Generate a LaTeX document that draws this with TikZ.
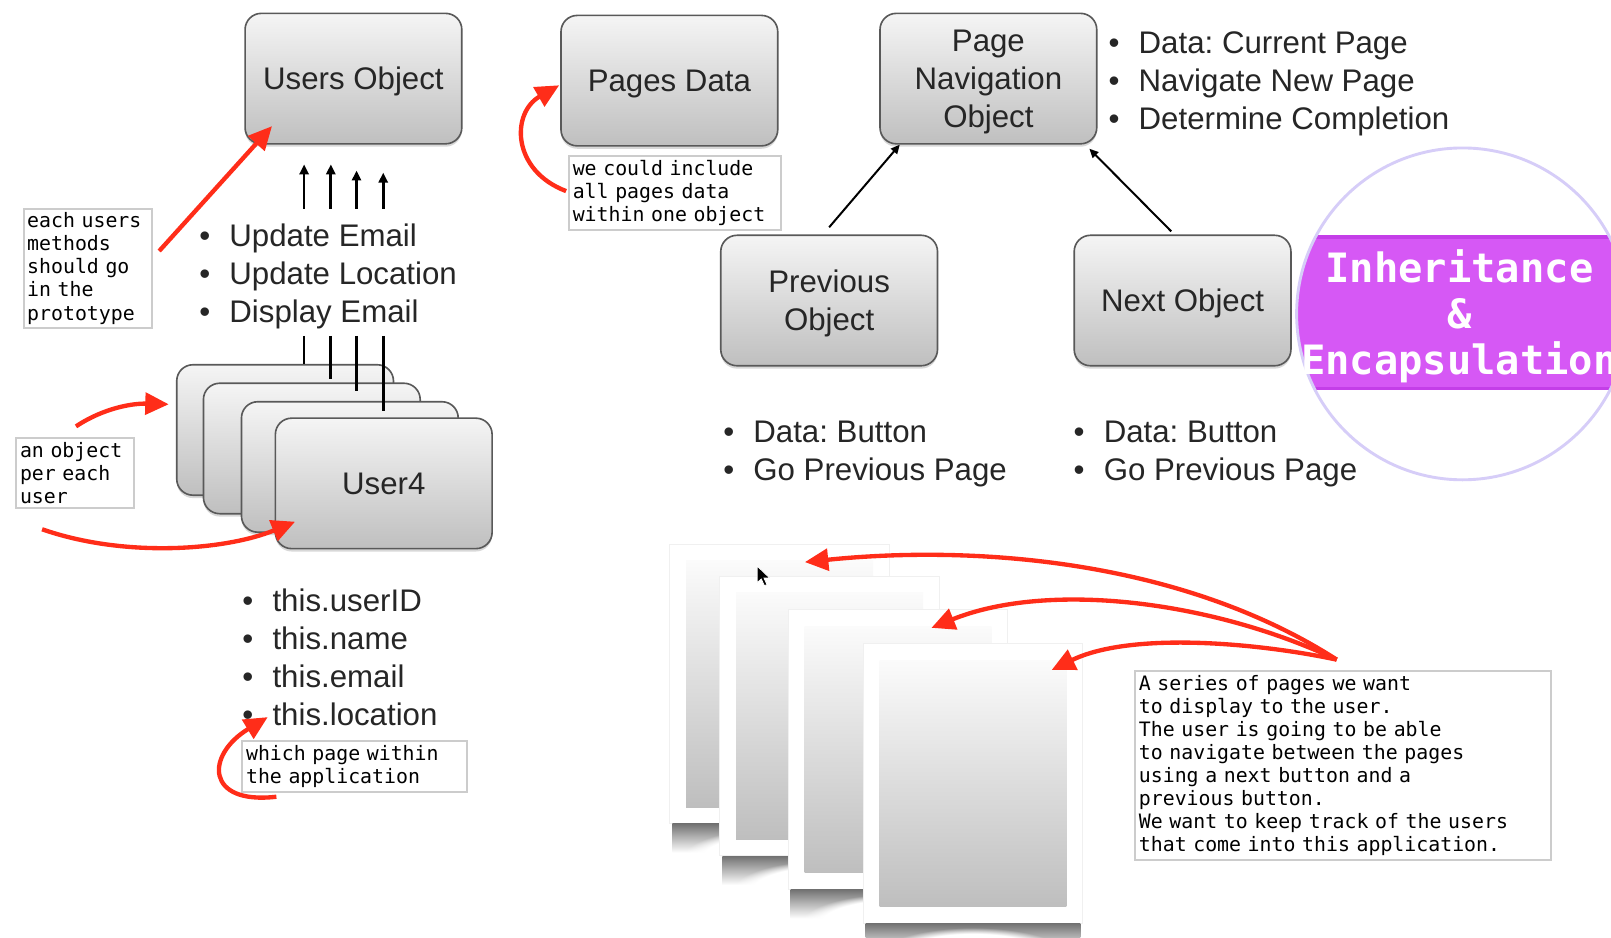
\documentclass[tikz,border=0pt]{standalone}
\usepackage{fontspec}
\setmainfont{Liberation Sans}
\newfontfamily\codefont{DejaVu Sans Mono}
\frenchspacing
\usepackage{tikz}
\usetikzlibrary{arrows.meta,positioning,calc,shadows,fadings}
\definecolor{annored}{RGB}{255,45,25}
\definecolor{bandpurple}{RGB}{214,88,245}
\definecolor{bandedge}{RGB}{196,62,232}
\definecolor{ringlav}{RGB}{214,205,248}
\newcommand{\bitem}[1]{\makebox[16.7pt][l]{\textbullet}#1}
\tikzset{
  objbox/.style={draw=black!65, line width=0.9pt, rounded corners=9pt, top color=black!4, bottom color=black!25,
    minimum width=4.22cm, minimum height=2.54cm, align=center, text depth=0pt, font=\fontsize{17.3}{21}\selectfont, text=black!85,
    drop shadow={shadow xshift=0pt, shadow yshift=-1.6pt, opacity=0.3}},
  listline/.style={anchor=west, inner sep=0pt, text height=12.5pt, text depth=0pt, font=\fontsize{17.3}{21}\selectfont, text=black!85},
  note/.style={draw=black!20, line width=1.1pt, fill=white, anchor=north west, inner xsep=2pt, inner ysep=2.4pt, align=left,
    font=\codefont\fontsize{11}{12.75}\selectfont},
  redarr/.style={-{Triangle[length=13pt, width=12pt]}, line width=2.4pt, draw=annored},
  blkarr/.style={-{Triangle[length=5.5pt, width=5pt]}, line width=1.5pt},
  thinarr/.style={-{Triangle[length=5pt, width=4.5pt]}, line width=1.1pt},
  pagesheet/.style={draw=black!6, line width=0.5pt, fill=white, minimum width=4.28cm, minimum height=5.44cm, inner sep=0pt,
    path picture={\shade[top color=white, bottom color=black!27]
      ($(path picture bounding box.north west)+(16,16)$) rectangle ($(path picture bounding box.south east)+(-16,-16)$);}}}

\begin{document}
\begin{tikzpicture}[x=0.02cm, y=-0.02cm]
  \useasboundingbox (0,0) rectangle (1568,912);
  \clip (0,0) rectangle (1568,912);
  \fill[white] (0,0) rectangle (1568,912);
  % users object and the user objects
  \node[objbox] (uo) at (344,76.5) {Users Object};
  \foreach \x/\y [count=\i] in {277.5/418.5, 303.5/436.5, 340.5/454.5}
    \node[objbox] (u\i) at (\x,\y) {};
  \node[objbox] (u4) at (373.5,470.5) {User4};
  \foreach \lbl [count=\i] in {Update Email, Update Location, Display Email}
    \node[listline] (m\i) at (193.6,{229+37*(\i-1)}) {\bitem{\lbl}};
  \foreach \x/\t in {296/160, 322/160, 347/166, 373/168}
    \draw[blkarr] (\x,203) -- (\x,\t);
  \foreach \x/\d [count=\i] in {296/0, 322/-3, 347/-10, 373/-6}
    \draw[line width=1.5pt] (\x,327) -- ($(\x,327 |- u\i.north)+(0,\d)$);
  \foreach \lbl [count=\i] in {this.userID, this.name, this.email, this.location}
    \node[listline] (f\i) at (235.6,{584+37*(\i-1)}) {\bitem{\lbl}};
  % notes on the left
  \node[note, text width=2.36cm] (each) at (22,202) {each users\\methods\\should go\\in the\\prototype};
  \node[note, text width=2.14cm] (peruser) at (15,425) {an object\\per each\\user};
  \node[note, text width=4.24cm] (which) at (235,720) {which page within\\the application};
  \draw[redarr] ($(each.east)+(6,-17)$) -- ($(uo.south west)+(27,-18)$);
  \draw[redarr] ($(peruser.north)+(1,-10)$) .. controls +(27,-18) and +(-35,-1) .. ($(u1.west)+(-7,-25)$);
  \draw[redarr] ($(peruser.south)+(-32,20)$) .. controls +(80,28) and +(-68,28) .. ($(u4.south west)+(20,-27)$);
  \draw[redarr] ($(which.south west)+(34,4)$) .. controls +(-69,8) and +(-61,37) .. ($(f4.west)+(25,3)$);
  % pages data
  \node[objbox] (pd) at (651.5,78.5) {Pages Data};
  \node[note, text width=3.99cm] (alldata) at (553,151) {we could include\\all pages data\\within one object};
  \draw[redarr] ($(alldata.west)+(-2,-2)$) .. controls +(-53,-20) and +(-47,27) .. ($(pd.west)+(-1,4.5)$);
  % navigation
  \node[objbox] (nav) at (962,76.5) {Page\\Navigation\\Object};
  \foreach \lbl [count=\i] in {Data: Current Page, Navigate New Page, Determine Completion}
    \node[listline] (n\i) at (1078.6,{41+37*(\i-1)}) {\bitem{\lbl}};
  \node[objbox] (prev) at (807,292.5) {Previous\\Object};
  \node[objbox] (next) at (1151,292.5) {Next Object};
  \draw[thinarr] ($(prev.north)+(0,-7)$) -- ($(nav.south west)+(20,0)$);
  \draw[thinarr] ($(next.north)+(-11,-3)$) -- ($(nav.south east)+(-8,4)$);
  \foreach \lbl [count=\i] in {Data: Button, Go Previous Page}{
    \node[listline] (pv\i) at (703.6,{420+37*(\i-1)}) {\bitem{\lbl}};
    \node[listline] (nx\i) at (1044.6,{420+37*(\i-1)}) {\bitem{\lbl}};}
  % badge
  \begin{scope}
    \clip (1423.5,305.5) circle [radius=161.5];
    \fill[bandpurple] (1250,228.7) rectangle (1600,379.6);
    \draw[bandedge, line width=2pt] (1250,230.5) -- (1600,230.5) (1250,378) -- (1600,378);
  \end{scope}
  \draw[ringlav, line width=1.6pt] (1423.5,305.5) circle [radius=161.5];
  \node[font=\codefont\bfseries\fontsize{22.4}{25.5}\selectfont, text=white, align=center] (badge) at (1420.5,308)
    {Inheritance\\\&\\Encapsulation};
  % pages
  \foreach \x/\y [count=\i] in {758.8/665.5, 807.5/697, 874/729.5, 947/762.5}{
    \node[pagesheet] (p\i) at (\x,\y) {};
    \shade[top color=black!55, bottom color=white] ($(p\i.south west)+(3,0)$) rectangle ($(p\i.south east)+(-3,28)$);
    \fill[white, path fading=circle with fuzzy edge 20 percent] ($(p\i.south)+(0,34)$) ellipse [x radius=95, y radius=30];}
  \node[note, text width=7.96cm] (series) at (1104,652) {A series of pages we want\\to display to the user.\\The user is going to be able\\to navigate between the pages\\using a next button and a\\previous button.\\We want to keep track of the users\\that come into this application.};
  \coordinate (src) at ($(series.north west)+(197,-10)$);
  \draw[redarr] (src) .. controls +(-151,-97) and +(166,-17) .. ($(p1.north west)+(132,18)$);
  \draw[redarr] (src) .. controls +(-121,-57) and +(114,-46) .. ($(p3.north west)+(140,18)$);
  \draw[redarr] (src) .. controls +(-81,-17) and +(76,-37) .. ($(p4.north west)+(184,26)$);
  % cursor
  \fill[black, draw=white, line width=0.4pt] (737,551) -- (737,567) -- (741,563.5) -- (744,570) -- (746.5,569) -- (743.5,562.5) -- (749,562.5) -- cycle;
\end{tikzpicture}
\end{document}
